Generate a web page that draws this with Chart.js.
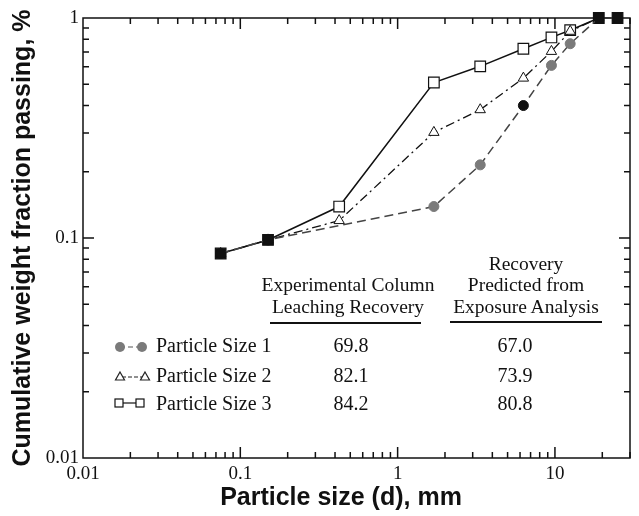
<!DOCTYPE html>
<html lang="en">
<head>
<meta charset="UTF-8">
<title>Cumulative weight fraction passing</title>
<script src="https://cdn.jsdelivr.net/npm/chart.js@4.4.1/dist/chart.umd.min.js"></script>
<style>
  html, body { margin: 0; padding: 0; background: #fff; }
  #wrap { position: relative; width: 639px; height: 516px; }
  #chart { position: absolute; left: 0; top: 0; }
  .t { position: absolute; font-family: "Liberation Serif", "Times New Roman", serif; font-size: 20px; line-height: 20px; color: #111; white-space: nowrap; }
  .c { transform: translateX(-50%); }
  .rule { position: absolute; height: 2px; background: #111; }
  #xtitle { position: absolute; left: 341px; top: 481px; transform: translateX(-50%); font-family: "Liberation Sans", Arial, sans-serif; font-weight: bold; font-size: 25px; line-height: 30px; color: #111; white-space: nowrap; }
</style>
</head>
<body>
<div id="wrap">
  <canvas id="chart" width="639" height="516"></canvas>
  <div id="xtitle">Particle size (d), mm</div>
</div>
<script>
// sieve sizes, mm
const sizes = [0.075, 0.15, 0.425, 1.7, 3.35, 6.3, 9.5, 12.5, 19, 25];
// cumulative weight fraction passing
const size1 = [0.085, 0.098, null, 0.139, 0.215, 0.40, 0.609, 0.764, 1.0, 1.0];
const size2 = [0.085, 0.098, 0.120, 0.302, 0.383, 0.533, 0.705, 0.87, 1.0, 1.0];
const size3 = [0.085, 0.098, 0.139, 0.509, 0.603, 0.725, 0.816, 0.88, 1.0, 1.0];

const xTicks = [0.01, 0.1, 1, 10];
const yTicks = [0.01, 0.1, 1];

// table in the plot
const rowLabels = ['Particle Size 1', 'Particle Size 2', 'Particle Size 3'];
const expRecovery = ['69.8', '82.1', '84.2'];
const predRecovery = ['67.0', '73.9', '80.8'];
const expHeader = ['Experimental Column', 'Leaching Recovery'];
const predHeader = ['Recovery', 'Predicted from', 'Exposure Analysis'];

const shared = [0, 1, 8, 9];

function points(vals) {
  return sizes.map((s, i) => ({ x: s, y: vals[i] })).filter(p => p.y !== null);
}
function fills(vals, base, dark) {
  return sizes.map((s, i) => (shared.includes(i) || dark.includes(i)) ? '#111' : base)
    .filter((c, i) => vals[i] !== null);
}

const frame = {
  id: 'frame',
  beforeDatasetsDraw(chart) {
    const { ctx, chartArea: a, scales: { x, y } } = chart;
    ctx.save();
    ctx.strokeStyle = '#111';
    ctx.lineWidth = 1.5;
    ctx.strokeRect(a.left, a.top, a.right - a.left, a.bottom - a.top);
    ctx.beginPath();
    for (let e = -2; e <= 1; e++) {
      for (let m = 1; m <= 9; m++) {
        const v = m * Math.pow(10, e);
        if (v <= 0.01 || v > 30) continue;
        const px = x.getPixelForValue(v);
        const len = m === 1 ? 11 : 6;
        ctx.moveTo(px, a.bottom); ctx.lineTo(px, a.bottom - len);
        ctx.moveTo(px, a.top); ctx.lineTo(px, a.top + len);
      }
    }
    for (let e = -2; e <= -1; e++) {
      for (let m = 1; m <= 9; m++) {
        const v = m * Math.pow(10, e);
        if (v <= 0.01) continue;
        const py = y.getPixelForValue(v);
        const len = m === 1 ? 11 : 6;
        ctx.moveTo(a.left, py); ctx.lineTo(a.left + len, py);
        ctx.moveTo(a.right, py); ctx.lineTo(a.right - len, py);
      }
    }
    ctx.stroke();
    ctx.restore();
  },
  afterDraw(chart) {
    // legend swatches next to the table rows
    const ctx = chart.ctx;
    ctx.save();
    ctx.lineWidth = 1.2;
    ctx.strokeStyle = '#555';
    // size 1: grey circles, dashed
    ctx.setLineDash([5, 3]);
    ctx.beginPath(); ctx.moveTo(120, 347); ctx.lineTo(142, 347); ctx.stroke();
    ctx.setLineDash([]);
    ctx.fillStyle = '#7a7a7a';
    [120, 142].forEach(cx => { ctx.beginPath(); ctx.arc(cx, 347, 5, 0, Math.PI * 2); ctx.fill(); });
    // size 2: triangles, dashed
    ctx.strokeStyle = '#222';
    ctx.setLineDash([4, 2]);
    ctx.beginPath(); ctx.moveTo(122, 377); ctx.lineTo(143, 377); ctx.stroke();
    ctx.setLineDash([]);
    ctx.fillStyle = '#fff';
    [120, 145].forEach(cx => {
      ctx.beginPath();
      ctx.moveTo(cx, 372); ctx.lineTo(cx + 4.5, 380); ctx.lineTo(cx - 4.5, 380); ctx.closePath();
      ctx.fill(); ctx.stroke();
    });
    // size 3: squares, solid
    ctx.strokeStyle = '#111';
    ctx.beginPath(); ctx.moveTo(119, 403); ctx.lineTo(140, 403); ctx.stroke();
    [119, 140].forEach(cx => { ctx.fillRect(cx - 4, 399, 8, 8); ctx.strokeRect(cx - 4, 399, 8, 8); });
    ctx.restore();
  }
};

new Chart(document.getElementById('chart'), {
  type: 'line',
  data: {
    datasets: [
      {
        label: 'Particle Size 1',
        data: points(size1),
        borderColor: '#444',
        borderWidth: 1.5,
        borderDash: [9, 5],
        pointStyle: 'circle',
        pointRadius: 5,
        pointBorderWidth: 1,
        pointBorderColor: fills(size1, '#7a7a7a', [5]),
        pointBackgroundColor: fills(size1, '#7a7a7a', [5]),
        clip: false
      },
      {
        label: 'Particle Size 2',
        data: points(size2),
        borderColor: '#111',
        borderWidth: 1.3,
        borderDash: [9, 4, 2, 4],
        pointStyle: 'triangle',
        pointRadius: 6,
        pointBorderWidth: 1,
        pointBorderColor: '#111',
        pointBackgroundColor: fills(size2, '#fff', []),
        clip: false
      },
      {
        label: 'Particle Size 3',
        data: points(size3),
        borderColor: '#111',
        borderWidth: 1.5,
        pointStyle: 'rect',
        pointRadius: 7.5,
        pointBorderWidth: 1.2,
        pointBorderColor: '#111',
        pointBackgroundColor: fills(size3, '#fff', []),
        clip: false
      }
    ]
  },
  options: {
    responsive: false,
    animation: false,
    layout: { padding: { top: 18, right: 9, left: 0, bottom: 0 } },
    plugins: { legend: { display: false }, tooltip: { enabled: false } },
    scales: {
      x: {
        type: 'logarithmic',
        min: 0.01,
        max: 30,
        afterFit: s => { s.height = 58; },
        afterBuildTicks: s => { s.ticks = xTicks.map(v => ({ value: v })); },
        grid: { display: false, drawTicks: false },
        border: { display: false },
        ticks: {
          autoSkip: false, maxRotation: 0, padding: 5, color: '#111',
          font: { family: 'Liberation Serif', size: 19 },
          callback: v => String(v)
        },
        title: { display: false }
      },
      y: {
        type: 'logarithmic',
        min: 0.01,
        max: 1,
        afterFit: s => { s.width = 83; },
        afterBuildTicks: s => { s.ticks = yTicks.map(v => ({ value: v })); },
        grid: { display: false, drawTicks: false },
        border: { display: false },
        ticks: {
          autoSkip: false, padding: 4, color: '#111',
          font: { family: 'Liberation Serif', size: 19 },
          callback: v => String(v)
        },
        title: {
          display: true, text: 'Cumulative weight fraction passing, %', color: '#111',
          font: { family: 'Liberation Sans', size: 25, weight: 'bold' },
          padding: { top: 8, bottom: 0 }
        }
      }
    }
  },
  plugins: [frame]
});

// table text as html, placed by baseline
const wrap = document.getElementById('wrap');
function addText(txt, x, baseline, size, center) {
  const d = document.createElement('div');
  d.className = 't' + (center ? ' c' : '');
  d.style.fontSize = size + 'px';
  d.style.lineHeight = size + 'px';
  d.style.left = x + 'px';
  d.style.top = (baseline - 0.84 * size) + 'px';
  d.textContent = txt;
  wrap.appendChild(d);
}
function addRule(x1, x2, y) {
  const d = document.createElement('div');
  d.className = 'rule';
  d.style.left = x1 + 'px';
  d.style.width = (x2 - x1) + 'px';
  d.style.top = (y - 1) + 'px';
  wrap.appendChild(d);
}
expHeader.forEach((s, i) => addText(s, 348, 291.5 + i * 21.6, 19.5, true));
predHeader.forEach((s, i) => addText(s, 526, 270 + i * 21.6, 19.5, true));
addRule(270, 421, 323);
addRule(450, 602, 322);
const rowBase = [352, 381.5, 410];
rowLabels.forEach((s, i) => {
  addText(s, 156, rowBase[i], 20, false);
  addText(expRecovery[i], 351, rowBase[i], 20, true);
  addText(predRecovery[i], 515, rowBase[i], 20, true);
});
</script>
</body>
</html>
